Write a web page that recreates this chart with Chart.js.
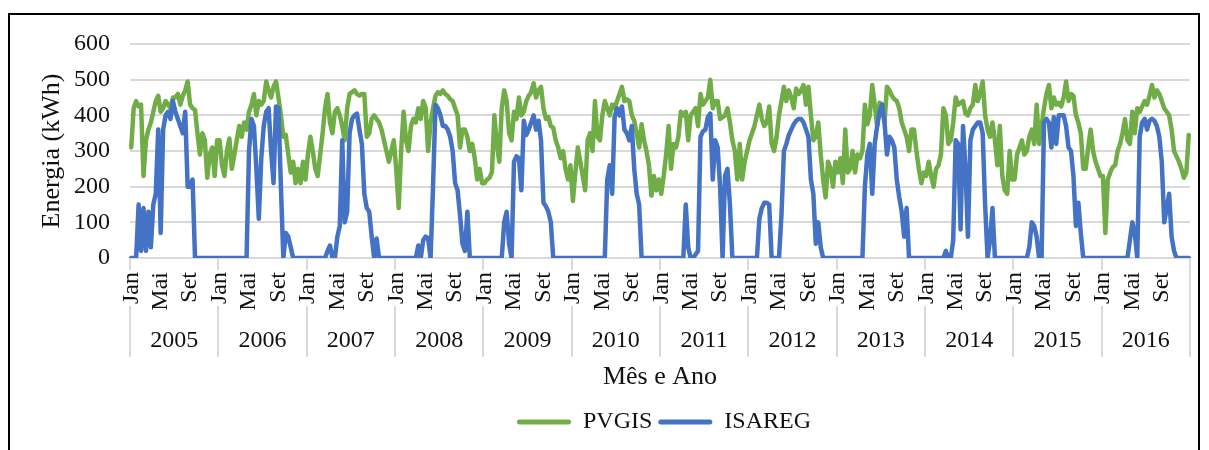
<!DOCTYPE html>
<html>
<head>
<meta charset="utf-8">
<script src="https://cdn.jsdelivr.net/npm/chart.js@4"></script>
<style>
  html, body { margin: 0; padding: 0; background: #fff; }
  #wrap { position: relative; width: 1209px; height: 450px; overflow: hidden; }
  #frame { position: absolute; left: 8px; top: 13px; width: 1188px; height: 460px; border: 2px solid #000; pointer-events: none; }
  canvas { position: absolute; left: 0; top: 0; }
</style>
</head>
<body>
<div id="wrap">
  <canvas id="energiaChart" width="1209" height="450"></canvas>
  <div id="frame"></div>
</div>
<script>
// --- Data (36 decendial values per year) ---
const years = ['2005', '2006', '2007', '2008', '2009', '2010', '2011', '2012', '2013', '2014', '2015', '2016'];
const monthNames = ['Jan', 'Fev', 'Mar', 'Abr', 'Mai', 'Jun', 'Jul', 'Ago', 'Set', 'Out', 'Nov', 'Dez'];
const periodsPerMonth = 3;

const pvgis = [
  310,420,440,425,430,230,330,360,380,410,440,455,410,420,440,430,420,450,450,460,430,455,470,495,430,420,415,350,290,350,330,225,290,310,230,330, // 2005
  330,260,230,300,335,250,290,330,370,340,380,360,410,430,460,400,440,430,440,495,470,450,480,495,450,400,340,345,290,240,270,210,250,210,270,220, // 2006
  290,340,300,250,230,290,350,420,460,380,350,410,420,400,370,330,420,460,465,470,460,455,460,460,340,350,390,400,390,380,360,330,300,270,300,330, // 2007
  250,140,300,410,330,300,370,390,380,420,390,440,420,300,380,420,455,465,460,470,460,455,445,440,420,400,310,360,360,340,300,320,280,220,250,210, // 2008
  210,220,225,240,400,320,270,420,470,440,350,330,410,390,450,400,410,440,455,465,490,450,470,480,420,390,395,370,365,330,310,280,300,250,220,260, // 2009
  160,240,310,270,230,190,330,350,300,440,340,330,400,440,420,400,430,420,440,460,480,440,445,440,400,385,350,310,375,330,300,260,175,230,190,220, // 2010
  180,230,290,370,250,320,310,340,410,400,410,330,400,410,420,370,460,430,440,450,500,420,440,440,390,395,400,420,380,330,300,220,320,220,270,300, // 2011
  330,350,370,400,430,390,370,380,425,320,300,340,400,440,480,440,470,450,420,475,460,470,485,430,480,400,330,340,380,290,220,170,270,250,200,270, // 2012
  240,280,210,360,240,250,300,240,290,280,300,430,375,400,485,430,370,435,430,380,480,470,455,445,440,420,380,360,340,300,360,360,300,250,210,240, // 2013
  230,270,230,200,250,260,290,420,400,320,330,380,450,430,435,440,405,400,420,430,485,440,460,495,400,360,340,380,330,260,370,230,190,180,300,220, // 2014
  220,290,310,330,290,300,340,360,320,430,320,370,420,460,485,420,450,430,435,425,450,495,440,460,455,400,380,350,250,250,310,360,300,270,250,230, // 2015
  230,70,220,240,255,260,300,320,350,390,330,320,410,350,420,410,425,440,430,455,485,450,470,460,440,420,410,400,360,300,285,270,250,225,240,345  // 2016
];

const isareg = [
  0,0,0,150,20,140,20,130,30,150,180,360,70,360,400,410,390,440,410,390,370,350,410,200,200,220,0,0,0,0,0,0,0,0,0,0, // 2005
  0,0,0,0,0,0,0,0,0,0,0,0,300,390,370,250,110,280,370,410,420,300,210,425,420,200,0,70,60,30,0,0,0,0,0,0,           // 2006
  0,0,0,0,0,0,0,0,20,35,0,0,60,90,330,100,130,350,390,400,405,360,320,180,140,130,60,0,55,0,0,0,0,0,0,0,            // 2007
  0,0,0,0,0,0,0,0,0,35,0,50,60,55,0,200,430,420,400,370,370,360,340,300,210,190,120,40,20,130,0,0,0,0,0,0,          // 2008
  0,0,0,0,0,0,0,0,100,130,40,0,270,285,280,190,385,345,360,380,400,360,385,330,155,145,130,100,0,0,0,0,0,0,0,0,     // 2009
  0,0,0,0,0,0,0,0,0,0,0,0,0,0,220,260,180,395,420,400,425,360,350,330,370,250,180,150,0,0,0,0,0,0,0,0,             // 2010
  0,0,0,0,0,0,0,0,0,0,150,30,0,0,10,20,340,355,360,395,405,220,330,310,200,0,230,250,150,0,0,0,0,0,0,0,             // 2011
  0,0,0,0,110,140,155,155,150,0,0,0,0,120,300,320,345,360,375,385,390,390,380,360,340,220,180,40,100,30,0,0,0,0,0,0, // 2012
  0,0,0,0,0,0,0,0,0,0,0,200,290,320,180,320,370,410,430,380,290,340,330,310,220,170,130,60,140,0,0,0,0,0,0,0,       // 2013
  0,0,0,0,0,0,0,0,20,0,0,50,330,320,80,370,250,60,330,360,370,380,380,350,150,0,50,140,0,0,0,0,0,0,0,0,             // 2014
  0,0,0,0,0,0,30,100,90,60,0,0,380,390,380,310,395,320,400,400,400,370,310,300,230,90,155,70,0,0,0,0,0,0,0,0,       // 2015
  0,0,0,0,0,0,0,0,0,0,0,50,100,70,0,340,380,390,360,385,390,385,370,340,270,100,140,180,60,20,0,0,0,0,0,0           // 2016
];

// category labels: each month repeated for its three decendios
const labels = [];
years.forEach(() => monthNames.forEach(m => { for (let d = 0; d < periodsPerMonth; d++) labels.push(m); }));
const periodsPerYear = monthNames.length * periodsPerMonth;
const labelEvery = 4 * periodsPerMonth; // Jan, Mai, Set

// --- Styles ---
const fontFamily = 'Liberation Serif';
const textColor = '#111111';
const gridColor = '#d9d9d9';
const tickFont = { family: fontFamily, size: 24 };
const monthPadding = 14;

// separators between years, spanning the two label rows; the "Jan" label next to a separator hides it
const yearDividers = {
    id: 'yearDividers',
    beforeDraw(chart) {
        const xs = chart.scales.x;
        const yrs = chart.scales.x2;
        const c = chart.ctx;
        c.save();
        c.font = `${tickFont.size}px "${fontFamily}"`;
        const janLen = c.measureText(monthNames[0]).width;
        const gapTop = xs.top + monthPadding - 2;
        const gapBottom = xs.top + monthPadding + janLen + 2;
        const bottom = yrs.top + 32;
        c.strokeStyle = gridColor;
        c.lineWidth = 2;
        for (let k = 0; k <= years.length; k++) {
            const px = Math.round(xs.getPixelForValue(k * periodsPerYear - 0.5));
            c.beginPath();
            if (k < years.length) {
                c.moveTo(px, xs.top);
                c.lineTo(px, gapTop);
                c.moveTo(px, gapBottom);
            } else {
                c.moveTo(px, xs.top);
            }
            c.lineTo(px, bottom);
            c.stroke();
        }
        c.restore();
    }
};

// Excel centres the legend under the plot area, not under the whole canvas
const legendUnderPlot = {
    id: 'legendUnderPlot',
    afterLayout(chart) {
        const lg = chart.legend;
        const area = chart.chartArea;
        const shift = (area.left + area.right) / 2 + 4 - (lg.left + lg.right) / 2;
        lg.left += shift;
        lg.right += shift;
    }
};

const noSidePadding = (scale) => { scale.paddingLeft = 0; scale.paddingRight = 0; };

const initChart = () => {
    const ctx = document.getElementById('energiaChart');
    new Chart(ctx, {
        type: 'line',
        data: {
            labels: labels,
            datasets: [
                { label: 'PVGIS', data: pvgis, borderColor: '#70ad47', backgroundColor: '#70ad47',
                  borderWidth: 4.5, pointRadius: 0, borderJoinStyle: 'round', borderCapStyle: 'round', order: 1 },
                { label: 'ISAREG', data: isareg, borderColor: '#4472c4', backgroundColor: '#4472c4',
                  borderWidth: 4.5, pointRadius: 0, borderJoinStyle: 'round', borderCapStyle: 'round', order: 0 }
            ]
        },
        options: {
            responsive: false,
            animation: false,
            layout: { padding: { left: 33, right: 19, top: 44, bottom: 6 } },
            plugins: {
                tooltip: { enabled: false },
                legend: {
                    position: 'bottom',
                    labels: {
                        font: tickFont,
                        color: textColor,
                        boxWidth: 54,
                        boxHeight: 5,
                        padding: 6,
                        sort: (a, b) => a.datasetIndex - b.datasetIndex,
                        generateLabels: (chart) => Chart.defaults.plugins.legend.labels.generateLabels(chart)
                            .map(item => ({ ...item, lineWidth: 0, borderRadius: 2.5 }))
                    }
                }
            },
            scales: {
                x: {
                    type: 'category',
                    offset: true,
                    afterFit: noSidePadding,
                    grid: { display: false, drawTicks: false },
                    border: { display: true, color: gridColor, width: 2 },
                    ticks: {
                        autoSkip: false,
                        minRotation: 90,
                        maxRotation: 90,
                        padding: monthPadding,
                        color: textColor,
                        font: tickFont,
                        callback: function (value, index) {
                            return index % labelEvery === 0 ? this.getLabelForValue(value) : '';
                        }
                    }
                },
                x2: {
                    type: 'category',
                    labels: years,
                    position: 'bottom',
                    offset: true,
                    weight: 1,
                    afterFit: noSidePadding,
                    grid: { display: false, drawTicks: false },
                    border: { display: false },
                    ticks: { autoSkip: false, maxRotation: 0, padding: 2, color: textColor, font: tickFont },
                    title: { display: true, text: 'Mês e Ano', color: textColor,
                             font: { family: fontFamily, size: 26 }, padding: { top: 4.3, bottom: 11 } }
                },
                y: {
                    min: 0,
                    max: 600,
                    afterFit: (scale) => { scale.width = 97; },
                    grid: { color: gridColor, lineWidth: 2, drawTicks: false },
                    border: { display: false },
                    ticks: { stepSize: 100, padding: 20, color: textColor, font: tickFont },
                    title: { display: true, text: 'Energia (kWh)', color: textColor,
                             font: { family: fontFamily, size: 26 }, padding: { top: 4, bottom: 4 } }
                }
            }
        },
        plugins: [yearDividers, legendUnderPlot]
    });
};

document.addEventListener('DOMContentLoaded', initChart);
</script>
</body>
</html>
